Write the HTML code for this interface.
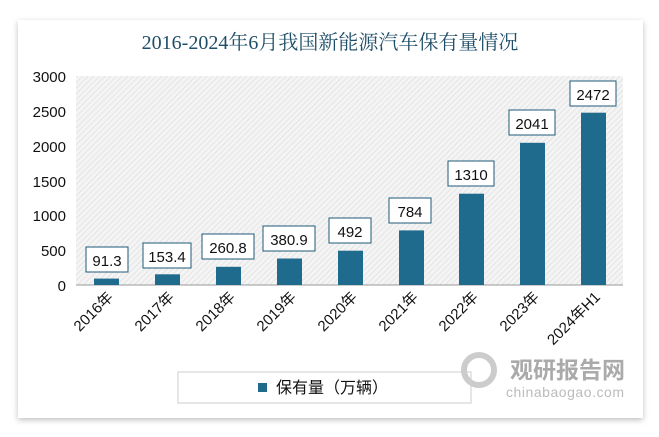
<!DOCTYPE html>
<html><head><meta charset="utf-8"><style>
body{margin:0;width:659px;height:432px;background:#fff;overflow:hidden;font-family:"Liberation Sans","Noto Sans CJK SC",sans-serif;}
</style></head><body>
<svg width="659" height="432" xmlns="http://www.w3.org/2000/svg">
<defs>
<pattern id="h" width="4" height="4" patternUnits="userSpaceOnUse" patternTransform="rotate(45)">
<rect width="4" height="4" fill="#f4f4f4"/><line x1="0" y1="0" x2="0" y2="4" stroke="#d6d6d6" stroke-width="1"/>
</pattern>
<filter id="s" x="-5%" y="-5%" width="110%" height="110%"><feDropShadow dx="0" dy="2" stdDeviation="3" flood-color="#000" flood-opacity="0.25"/></filter>
</defs>
<rect x="18" y="20" width="625" height="398" fill="#fff" filter="url(#s)"/>
<text x="330" y="49" text-anchor="middle" font-size="20" fill="#1f4e68" font-family="Liberation Serif,'Noto Serif CJK SC',serif">2016-2024年6月我国新能源汽车保有量情况</text>
<rect x="76" y="76" width="547" height="209" fill="url(#h)"/>
<line x1="76" y1="285" x2="623" y2="285" stroke="#999" stroke-width="1"/>
<g font-size="15" fill="#111" text-anchor="end">
<text x="66" y="82">3000</text><text x="66" y="117">2500</text><text x="66" y="152">2000</text>
<text x="66" y="187">1500</text><text x="66" y="221">1000</text><text x="66" y="256">500</text><text x="66" y="291">0</text>
</g>
<g fill="#1f6b8e">
<rect x="94" y="278.6" width="25" height="6.4"/>
<rect x="155" y="274.3" width="25" height="10.7"/>
<rect x="216" y="266.8" width="25" height="18.2"/>
<rect x="277" y="258.5" width="25" height="26.5"/>
<rect x="338" y="250.7" width="25" height="34.3"/>
<rect x="399" y="230.4" width="25" height="54.6"/>
<rect x="459" y="193.7" width="25" height="91.3"/>
<rect x="520" y="142.8" width="25" height="142.2"/>
<rect x="581" y="112.7" width="25" height="172.3"/>
</g>
<g font-size="15" fill="#111" text-anchor="middle">
<g stroke="#1f5a78" fill="#fff" stroke-width="1">
<rect x="86" y="247" width="42" height="25"/><rect x="143" y="243" width="48" height="25"/>
<rect x="202" y="234" width="52" height="25"/><rect x="263" y="226" width="52" height="25"/>
<rect x="329" y="218" width="42" height="25"/><rect x="389" y="198" width="42" height="25"/>
<rect x="448" y="161" width="46" height="25"/><rect x="509" y="110" width="46" height="25"/>
<rect x="570" y="81" width="46" height="25"/>
</g>
<text x="107" y="266">91.3</text><text x="167" y="262">153.4</text><text x="228" y="253">260.8</text>
<text x="289" y="245">380.9</text><text x="350" y="237">492</text><text x="410" y="217">784</text>
<text x="471" y="180">1310</text><text x="532" y="129">2041</text><text x="593" y="100">2472</text>
</g>
<g font-size="15" fill="#111" text-anchor="end">
<text transform="translate(114,298) rotate(-45)">2016年</text>
<text transform="translate(175,298) rotate(-45)">2017年</text>
<text transform="translate(236,298) rotate(-45)">2018年</text>
<text transform="translate(297,298) rotate(-45)">2019年</text>
<text transform="translate(358,298) rotate(-45)">2020年</text>
<text transform="translate(419,298) rotate(-45)">2021年</text>
<text transform="translate(479,298) rotate(-45)">2022年</text>
<text transform="translate(540,298) rotate(-45)">2023年</text>
<text transform="translate(601,298) rotate(-45)">2024年H1</text>
</g>
<rect x="178" y="372" width="293" height="31" fill="#fff" stroke="#ccc"/>
<rect x="258" y="383" width="9" height="9" fill="#1f6b8e"/>
<text x="276" y="393" font-size="16" fill="#111">保有量（万辆）</text>
<circle cx="479" cy="370" r="15" fill="none" stroke="#ccc" stroke-width="6"/>
<text x="510" y="378" font-size="23" font-weight="bold" fill="#aaa">观研报告网</text>
<text x="506" y="397" font-size="14" fill="#bbb" textLength="118">chinabaogao.com</text>
</svg>
</body></html>
